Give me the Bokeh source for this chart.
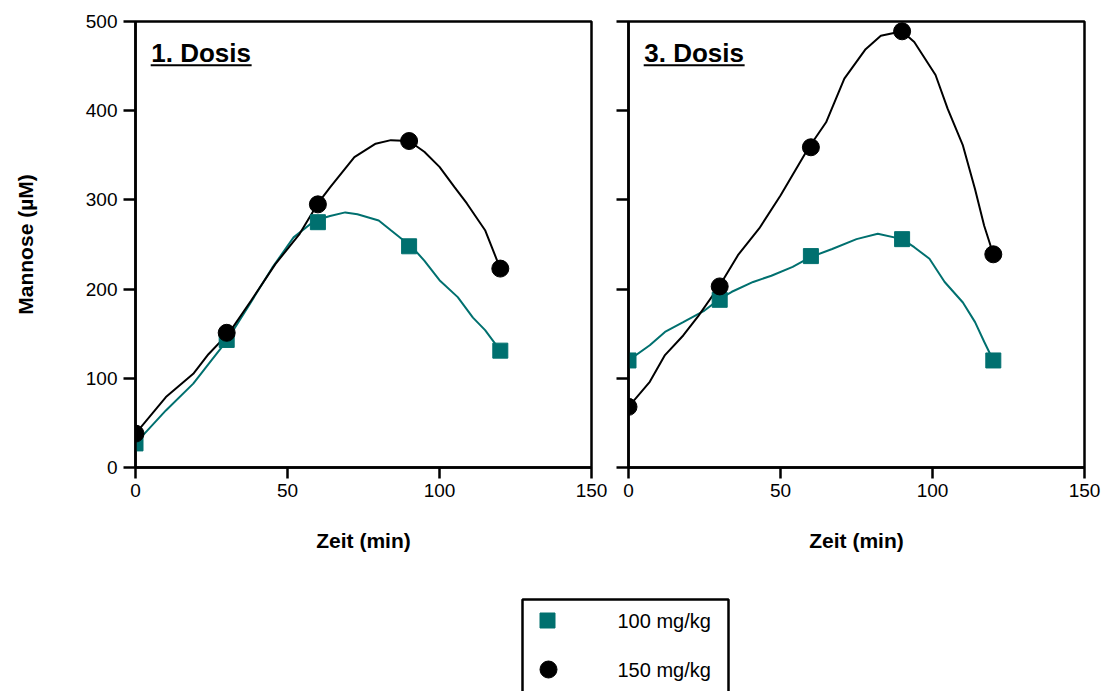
from bokeh.plotting import figure
from bokeh.layouts import column, row
from bokeh.models import FixedTicker, Label, Range1d
from bokeh.embed import file_html
from bokeh.resources import INLINE
from bokeh.core.properties import value

# ---- data ----
time_points = [0, 30, 60, 90, 120]

dose1_100 = [27, 143, 275, 248, 131]
dose1_150 = [38, 151, 295, 366, 223]
dose3_100 = [120, 188, 237, 256, 120]
dose3_150 = [68, 203, 359, 489, 239]

# smoothed connecting curves
d1_100_curve_t = [0, 10, 19, 24, 30, 37, 45, 52, 59, 64, 69, 73, 80, 84, 91, 95, 100, 106, 111, 115, 120]
d1_100_curve_v = [27, 64, 94, 116, 142, 180, 224, 258, 277, 282, 286, 284, 277, 266, 247, 232, 210, 191, 168, 154, 131]
d1_150_curve_t = [0, 10, 19, 24, 31, 38, 46, 54, 60, 64, 72, 79, 84, 90, 95, 100, 105, 109, 115, 120]
d1_150_curve_v = [38, 79, 105, 127, 152, 187, 228, 262, 296, 314, 348, 363, 367, 366, 354, 337, 314, 296, 266, 223]
d3_100_curve_t = [0, 7, 12, 18, 25, 30, 34, 41, 47, 54, 60, 67, 75, 82, 90, 94, 99, 104, 110, 114, 117, 120]
d3_100_curve_v = [120, 137, 152, 163, 176, 189, 197, 208, 215, 225, 236, 245, 256, 262, 256, 247, 234, 208, 185, 163, 141, 120]
d3_150_curve_t = [0, 7, 12, 18, 23, 30, 36, 43, 50, 59, 65, 71, 78, 83, 90, 94, 101, 105, 110, 114, 117, 120]
d3_150_curve_v = [68, 96, 126, 148, 170, 204, 238, 268, 305, 357, 387, 436, 469, 484, 489, 477, 440, 402, 361, 312, 271, 239]

x_ticks = [0, 50, 100, 150]
y_ticks = [0, 100, 200, 300, 400, 500]
panel_titles = ["1. Dosis", "3. Dosis"]
series_labels = ["100 mg/kg", "150 mg/kg"]
x_label = "Zeit (min)"
y_label = "Mannose (µM)"

TEAL = "#00706F"
FONT = "Liberation Sans"
TICK_FS = "19px"
LABEL_FS = "21px"


def make_panel(title, v100, v150, c100t, c100v, c150t, c150v, left_border, right_border, show_y_labels):
    p = figure(frame_width=456, frame_height=446,
               x_range=Range1d(0, 150), y_range=Range1d(0, 500),
               output_backend="svg", toolbar_location=None,
               min_border_left=left_border, min_border_right=right_border,
               min_border_top=21, min_border_bottom=103)
    p.xgrid.visible = False
    p.ygrid.visible = False
    p.outline_line_color = "black"
    p.outline_line_width = 2.5
    p.background_fill_color = "white"
    p.border_fill_color = "white"

    for ax in (p.xaxis[0], p.yaxis[0]):
        ax.axis_line_width = 2.5
        ax.axis_line_color = "black"
        ax.major_tick_line_width = 2.5
        ax.major_tick_line_color = "black"
        ax.major_tick_in = 0
        ax.minor_tick_line_color = None
        ax.major_label_text_font = FONT
        ax.major_label_text_font_size = TICK_FS
        ax.major_label_text_color = "black"
        ax.axis_label_text_font = FONT
        ax.axis_label_text_font_size = LABEL_FS
        ax.axis_label_text_font_style = "bold"
        ax.axis_label_text_color = "black"

    p.xaxis.ticker = FixedTicker(ticks=x_ticks)
    p.yaxis.ticker = FixedTicker(ticks=y_ticks)
    p.xaxis.major_tick_out = 11
    p.yaxis.major_tick_out = 12
    p.xaxis.major_label_standoff = 5
    p.xaxis.axis_label = x_label
    p.xaxis.axis_label_standoff = 29

    if show_y_labels:
        p.yaxis.major_label_standoff = 6
        p.yaxis.axis_label = y_label
        p.yaxis.axis_label_standoff = 46
    else:
        p.yaxis.major_label_overrides = {t: "" for t in y_ticks}
        p.yaxis.major_label_standoff = 0

    p.line(c100t, c100v, line_color=TEAL, line_width=2)
    p.line(c150t, c150v, line_color="black", line_width=2)
    p.scatter(time_points, v100, marker="square", size=15, fill_color=TEAL, line_color=TEAL)
    p.scatter(time_points, v150, marker="circle", size=17, fill_color="black", line_color="black")

    p.add_layout(Label(x=5.2, y=465, text=title, text_font=FONT, text_font_size="26px",
                       text_font_style="bold", text_color="black", text_baseline="alphabetic"))
    p.segment(x0=[5.0], y0=[451], x1=[38.2], y1=[451], line_color="black", line_width=2)
    return p


p1 = make_panel(panel_titles[0], dose1_100, dose1_150, d1_100_curve_t, d1_100_curve_v,
                d1_150_curve_t, d1_150_curve_v, 135, 19, True)
p2 = make_panel(panel_titles[1], dose3_100, dose3_150, d3_100_curve_t, d3_100_curve_v,
                d3_150_curve_t, d3_150_curve_v, 18, 23, False)

# legend panel (pixel-like coordinates, y measured from the top)
p3 = figure(width=1107, height=121, x_range=Range1d(0, 1107), y_range=Range1d(121, 0),
            output_backend="svg", toolbar_location=None,
            min_border=0, min_border_left=0, min_border_right=0, min_border_top=0, min_border_bottom=0)
p3.axis.visible = False
p3.grid.visible = False
p3.outline_line_color = None
p3.quad(left=[522], right=[728], top=[29], bottom=[140], fill_color="white",
        line_color="black", line_width=2.5)
p3.scatter([547], [50], marker="square", size=15, fill_color=TEAL, line_color=TEAL)
p3.scatter([548], [99], marker="circle", size=17, fill_color="black", line_color="black")
p3.text([617, 617], [50, 99], text=series_labels, text_font=value(FONT), text_font_size="20px",
        text_baseline="middle", text_align="left", text_color="black")

layout = column(row(p1, p2, spacing=0), p3, spacing=0)
open("out.html", "w").write(file_html(layout, INLINE))
